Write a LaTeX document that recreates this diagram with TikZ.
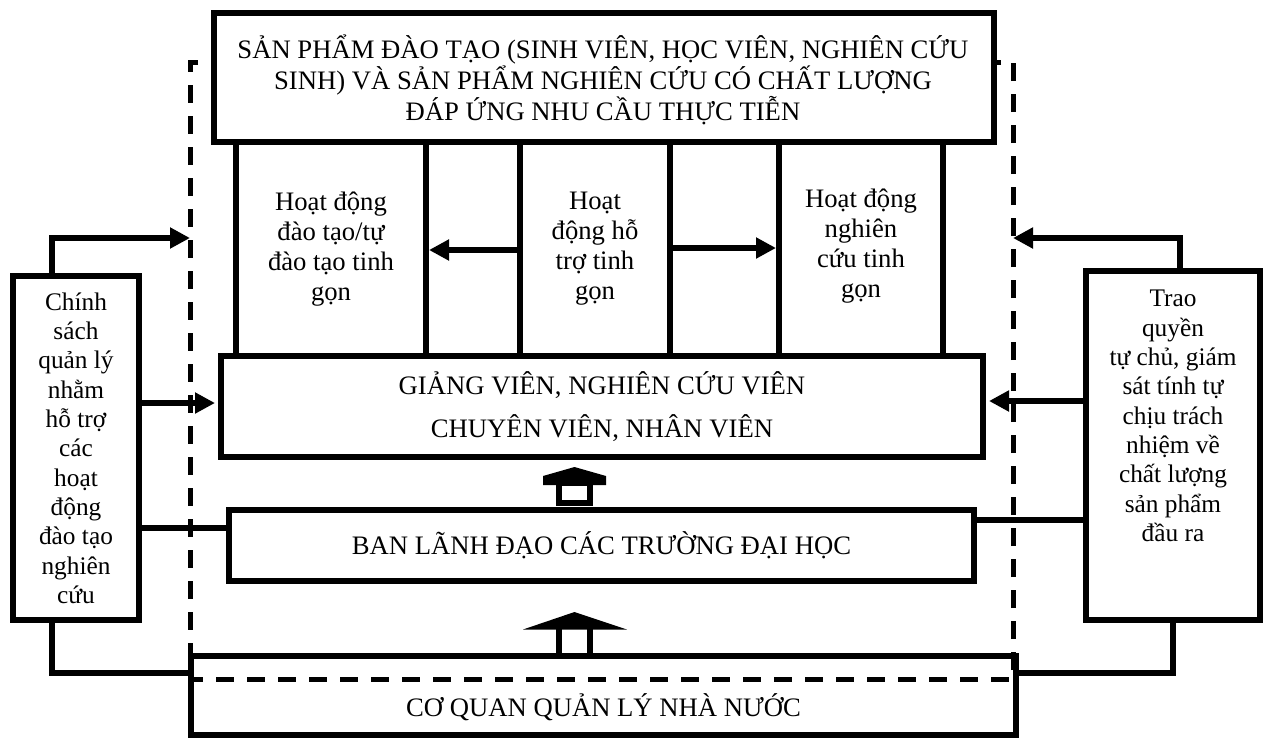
\documentclass[tikz,border=0pt]{standalone}
\usepackage{fontspec}
\setmainfont{Liberation Serif}
\usetikzlibrary{arrows.meta}
\newdimen\pxu \pxu=0.75pt
\begin{document}
\begin{tikzpicture}[x=0.75pt,y=-0.75pt,
  every node/.style={font=\fontsize{20}{22.5}\selectfont, align=center, inner sep=0pt},
  sidetext/.style={font=\fontsize{19}{22}\selectfont},
  box/.style={draw, line width=4.5pt, rectangle},
  conn/.style={line width=4.5pt},
  arr/.style={conn, -{Triangle[length=15pt,width=15pt]}},
  dashline/.style={line width=3.75pt, dash pattern=on 13.5pt off 9.75pt}]
\useasboundingbox (0,0) rectangle (1263,740);
% dashed frame
\coordinate (d1) at (198,62);
\coordinate (d2) at (190,62);
\coordinate (d3) at (190,679);
\coordinate (d4) at (1013,679);
\coordinate (d5) at (1013,62);
\coordinate (d6) at (997,62);
\draw[dashline] (d1) -- (d2) -- (d3) -- (d4) -- (d5) -- (d6);
% top box
\node[box, fill=white, minimum width=780\pxu, minimum height=129\pxu] (top) at (604,77.5) {};
\node[font=\fontsize{20}{23.5}\selectfont] (toptxt) at (603,80)
  {SẢN PHẨM ĐÀO TẠO (SINH VIÊN, HỌC VIÊN, NGHIÊN CỨU\\SINH) VÀ SẢN PHẨM NGHIÊN CỨU CÓ CHẤT LƯỢNG\\ĐÁP ỨNG NHU CẦU THỰC TIỄN};
% activity boxes
\node[box, minimum width=190\pxu, minimum height=214\pxu] (lact) at (331,249)
  {Hoạt động\\đào tạo/tự\\đào tạo tinh\\gọn};
\node[box, minimum width=150\pxu, minimum height=214\pxu] (mact) at (595,249)
  {Hoạt\\động hỗ\\trợ tinh\\gọn};
\node[box, minimum width=164\pxu, minimum height=214\pxu] (ract) at (861,249) {};
\node (racttxt) at (861,246) {Hoạt động\\nghiên\\cứu tinh\\gọn};
% staff box
\node[box, fill=white, minimum width=762\pxu, minimum height=101\pxu] (gv) at (602,406.5)
  {GIẢNG VIÊN, NGHIÊN CỨU VIÊN\\[10pt]CHUYÊN VIÊN, NHÂN VIÊN};
% leadership box
\node[box, minimum width=745\pxu, minimum height=71\pxu] (ban) at (601.5,545.5)
  {BAN LÃNH ĐẠO CÁC TRƯỜNG ĐẠI HỌC};
% state box
\node[box, minimum width=825\pxu, minimum height=79\pxu] (cq) at (603.5,695.5) {};
\node (cqt) at (603.5,707.5) {CƠ QUAN QUẢN LÝ NHÀ NƯỚC};
% side boxes
\node[box, sidetext, minimum width=126\pxu, minimum height=344\pxu] (lbox) at (76,448)
  {Chính\\sách\\quản lý\\nhằm\\hỗ trợ\\các\\hoạt\\động\\đào tạo\\nghiên\\cứu};
\node[box, minimum width=174\pxu, minimum height=349\pxu] (rbox) at (1173,445.5) {};
\node[sidetext] (rtxt) at (1173,416)
  {Trao\\quyền\\tự chủ, giám\\sát tính tự\\chịu trách\\nhiệm về\\chất lượng\\sản phẩm\\đầu ra};
% inner arrows
\coordinate (ya) at (0,250);
\coordinate (yb) at (0,248);
\draw[arr] (mact.west |- ya) -- (lact.east |- ya);
\draw[arr] (mact.east |- yb) -- (ract.west |- yb);
% left connectors
\coordinate (lt) at (52,276);
\coordinate (lb) at (52,620);
\coordinate (tipL) at (190,238);
\coordinate (yl2) at (0,403);
\coordinate (yl3) at (0,528);
\coordinate (yl4) at (0,673);
\draw[arr] (lt) |- (tipL);
\draw[arr] (lbox.east |- yl2) -- ([xshift=-2.25pt]gv.west |- yl2);
\draw[conn] (lbox.east |- yl3) -- (ban.west |- yl3);
\draw[conn] (lb) |- (cq.west |- yl4);
% right connectors
\coordinate (rt) at (1180,271);
\coordinate (tipR) at (1013,238);
\coordinate (yr2) at (0,401);
\coordinate (yr3) at (0,520);
\coordinate (yr4) at (0,673);
\draw[arr] (rt) |- (tipR);
\draw[arr] (rbox.west |- yr2) -- ([xshift=2.25pt]gv.east |- yr2);
\draw[conn] (rbox.west |- yr3) -- (ban.east |- yr3);
\draw[conn] (rbox.south) |- (cq.east |- yr4);
% block arrow 1 (ban -> gv)
\fill (543,485) -- (543,476) -- (574.5,467) -- (606,476) -- (606,485) -- cycle;
\draw[conn] (559,483) rectangle (590,503);
% block arrow 2 (cq -> ban)
\fill (523,629.5) -- (574.5,612) -- (627,629.5) -- cycle;
\draw[conn] (559,628) -- (559,655);
\draw[conn] (590,628) -- (590,655);
\end{tikzpicture}
\end{document}
